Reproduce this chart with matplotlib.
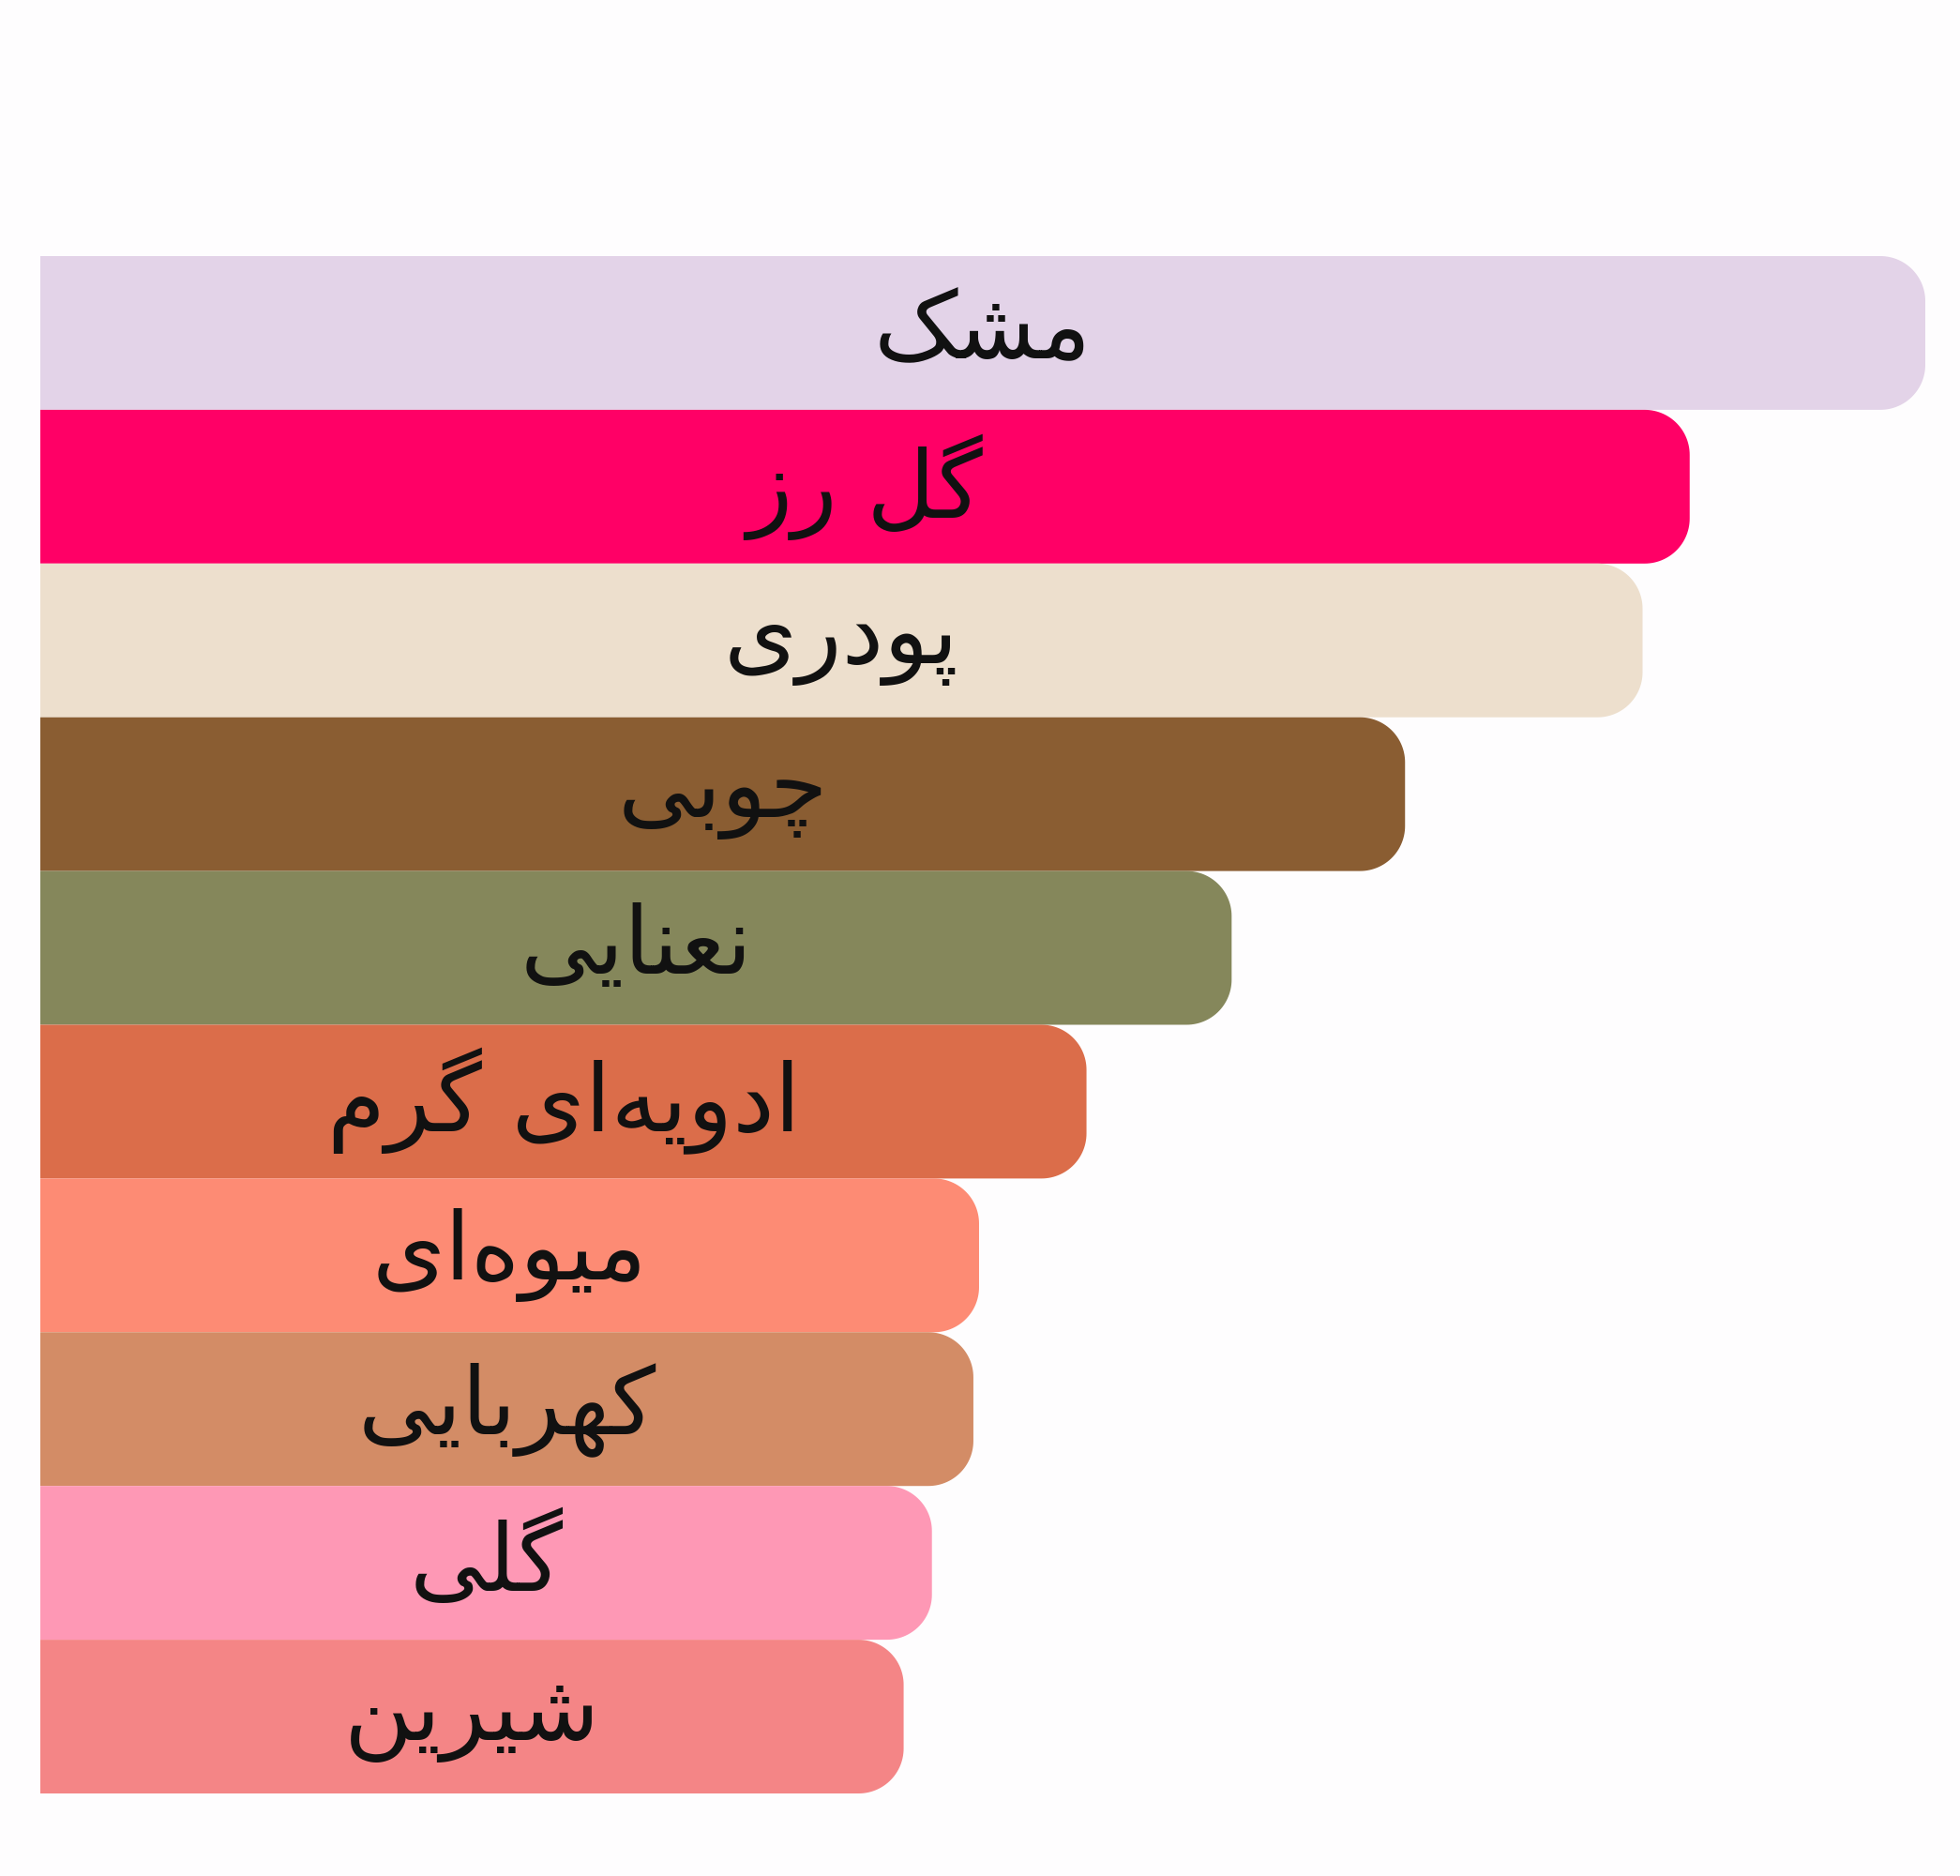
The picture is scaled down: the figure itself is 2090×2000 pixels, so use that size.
import numpy as np
import matplotlib
matplotlib.use('Agg')
import matplotlib.pyplot as plt
from matplotlib.patches import Polygon

# accords, top to bottom, with their relative strength (percent of the strongest)
labels = ['مشک', 'گل رز', 'پودری', 'چوبی', 'نعنایی',
          'ادویه‌ای گرم', 'میوه‌ای', 'کهربایی', 'گلی', 'شیرین']
values = [100, 87.5, 85.0, 72.4, 63.2, 55.5, 49.8, 49.5, 47.3, 45.8]
colors = ['#e3d3e8', '#ff0066', '#eddfcd', '#8a5d32', '#85875b',
          '#db6d4a', '#fd8b74', '#d38c66', '#fe98b5', '#f48586']

# matplotlib does no arabic shaping, so pick presentation forms by hand
# (isolated, final, initial, medial); None = letter does not join forward
FORMS = {
    'ا': ('\uFE8D', '\uFE8E', None, None),
    'ب': ('\uFE8F', '\uFE90', '\uFE91', '\uFE92'),
    'پ': ('\uFB56', '\uFB57', '\uFB58', '\uFB59'),
    'چ': ('\uFB7A', '\uFB7B', '\uFB7C', '\uFB7D'),
    'د': ('\uFEA9', '\uFEAA', None, None),
    'ر': ('\uFEAD', '\uFEAE', None, None),
    'ز': ('\uFEAF', '\uFEB0', None, None),
    'ش': ('\uFEB5', '\uFEB6', '\uFEB7', '\uFEB8'),
    'ع': ('\uFEC9', '\uFECA', '\uFECB', '\uFECC'),
    'ک': ('\uFB8E', '\uFB8F', '\uFB90', '\uFB91'),
    'گ': ('\uFB92', '\uFB93', '\uFB94', '\uFB95'),
    'ل': ('\uFEDD', '\uFEDE', '\uFEDF', '\uFEE0'),
    'م': ('\uFEE1', '\uFEE2', '\uFEE3', '\uFEE4'),
    'ن': ('\uFEE5', '\uFEE6', '\uFEE7', '\uFEE8'),
    'ه': ('\uFEE9', '\uFEEA', '\uFEEB', '\uFEEC'),
    'و': ('\uFEED', '\uFEEE', None, None),
    'ی': ('\uFBFC', '\uFBFD', '\uFBFE', '\uFBFF'),
}


def shape(word):
    out = []
    for i, c in enumerate(word):
        if c not in FORMS:
            if c != '\u200c':
                out.append(c)
            continue
        prev = word[i - 1] if i > 0 else None
        nxt = word[i + 1] if i + 1 < len(word) else None
        join_prev = prev in FORMS and FORMS[prev][2] is not None
        join_next = FORMS[c][2] is not None and nxt in FORMS
        iso, fin, ini, med = FORMS[c]
        if join_prev and join_next:
            out.append(med)
        elif join_prev:
            out.append(fin)
        elif join_next:
            out.append(ini)
        else:
            out.append(iso)
    return ''.join(reversed(out))


W, H, DPI = 2090, 2000, 100
fig = plt.figure(figsize=(W / DPI, H / DPI), dpi=DPI, facecolor='#fefdfe')
left, right, top, bottom = 43, 2053, 273, 1912
ax = fig.add_axes([left / W, 1 - bottom / H, (right - left) / W, (bottom - top) / H])
ax.set_facecolor('none')

ypos = list(range(len(labels)))
bars = ax.barh(ypos, values, height=1.0, color=colors)
ax.set_xlim(0, 100)
ax.set_ylim(len(labels) - 0.5, -0.5)
ax.axis('off')

# swap the plain rectangles for ones with rounded right ends (circular in pixels)
x_per_px = 100 / (right - left)
y_per_px = len(labels) / (bottom - top)
radius = 48
rx, ry = radius * x_per_px, radius * y_per_px
t = np.linspace(0, np.pi / 2, 30)
for bar in bars:
    x, y, w, h = bar.get_x(), bar.get_y(), bar.get_width(), bar.get_height()
    bar.set_visible(False)
    xr = x + w
    arc1 = np.column_stack([xr - rx + rx * np.sin(t), y + ry - ry * np.cos(t)])
    arc2 = np.column_stack([xr - rx + rx * np.cos(t), y + h - ry + ry * np.sin(t)])
    pts = np.vstack([[x, y], arc1, arc2, [x, y + h]])
    ax.add_patch(Polygon(pts, closed=True, facecolor=bar.get_facecolor(),
                         edgecolor='none'))

for yy, val, lab in zip(ypos, values, labels):
    ax.text(val / 2, yy, shape(lab), ha='center', va='center',
            fontsize=72, color='#111111', family=['DejaVu Sans'])

fig.savefig('out.png', dpi=DPI, facecolor=fig.get_facecolor())
